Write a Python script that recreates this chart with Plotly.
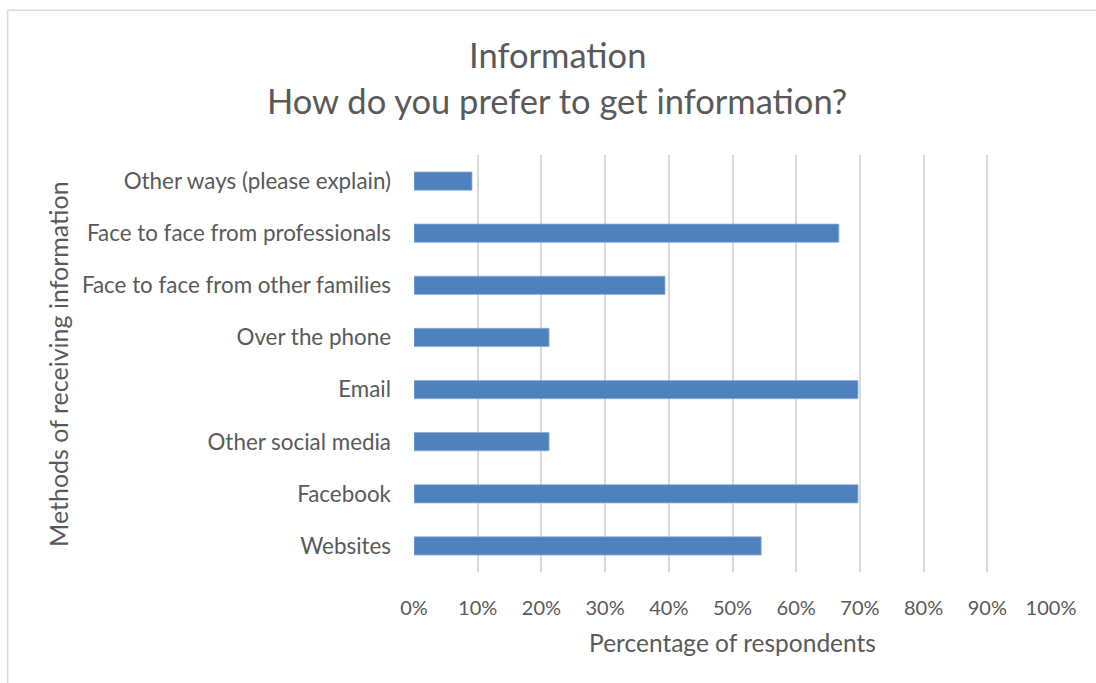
import plotly.graph_objects as go

# Survey results: share of respondents choosing each method (n = 33)
methods = [
    "Websites",
    "Facebook",
    "Other social media",
    "Email",
    "Over the phone",
    "Face to face from other families",
    "Face to face from professionals",
    "Other ways (please explain)",
]
share = [0.545, 0.697, 0.212, 0.697, 0.212, 0.394, 0.667, 0.091]
x_ticks = [0, 0.1, 0.2, 0.3, 0.4, 0.5, 0.6, 0.7, 0.8, 0.9, 1.0]
x_tick_text = ["0%", "10%", "20%", "30%", "40%", "50%", "60%", "70%", "80%", "90%", "100%"]

W, H = 1096, 683
ML, MR, MT, MB = 413.5, 45.3, 154.7, 111.3
PW, PH = W - ML - MR, H - MT - MB

FONT = "Lato"
TEXT = "#595959"

fig = go.Figure(
    go.Bar(
        x=share,
        y=methods,
        orientation="h",
        width=0.35,
        marker=dict(color="#4F81BD", line=dict(color="#8EAFD8", width=0.8)),
        hoverinfo="skip",
    )
)


def px_x(p):
    return (p - ML) / PW


def px_y(p):
    return (H - MB - p) / PH


fig.update_layout(
    width=W,
    height=H,
    margin=dict(l=ML, r=MR, t=MT, b=MB, pad=0),
    paper_bgcolor="white",
    plot_bgcolor="white",
    showlegend=False,
    font=dict(family=FONT, color=TEXT),
    xaxis=dict(
        range=[0, 1],
        tickvals=x_ticks,
        ticktext=x_tick_text,
        showgrid=True,
        gridcolor="#D9D9D9",
        gridwidth=1.6,
        zeroline=False,
        showline=False,
        ticks="",
        ticklabelstandoff=22,
        tickfont=dict(size=20, color=TEXT, family=FONT),
        title=dict(text="Percentage of respondents", font=dict(size=24.5, color=TEXT, family=FONT), standoff=16),
        fixedrange=True,
    ),
    yaxis=dict(
        range=[-0.5, 7.5],
        showgrid=False,
        zeroline=False,
        showline=False,
        ticks="",
        ticklabelstandoff=22,
        tickfont=dict(size=22.4, color=TEXT, family=FONT),
        fixedrange=True,
    ),
    shapes=[
        dict(
            type="rect",
            xref="paper",
            yref="paper",
            x0=px_x(7),
            x1=px_x(W + 10),
            y0=px_y(H + 10),
            y1=px_y(10),
            line=dict(color="#D9D9D9", width=1.5),
            fillcolor="rgba(0,0,0,0)",
            layer="below",
        )
    ],
    annotations=[
        dict(
            text="Information",
            xref="paper",
            yref="paper",
            x=px_x(557),
            y=px_y(54),
            xanchor="center",
            yanchor="middle",
            showarrow=False,
            font=dict(size=34.5, color=TEXT, family=FONT),
        ),
        dict(
            text="How do you prefer to get information?",
            xref="paper",
            yref="paper",
            x=px_x(557),
            y=px_y(100),
            xanchor="center",
            yanchor="middle",
            showarrow=False,
            font=dict(size=34.5, color=TEXT, family=FONT),
        ),
        dict(
            text="Methods of receiving information",
            xref="paper",
            yref="paper",
            x=px_x(58),
            y=px_y(364),
            xanchor="center",
            yanchor="middle",
            textangle=-90,
            showarrow=False,
            font=dict(size=25, color=TEXT, family=FONT),
        ),
    ],
)

fig.write_html("out.html")
